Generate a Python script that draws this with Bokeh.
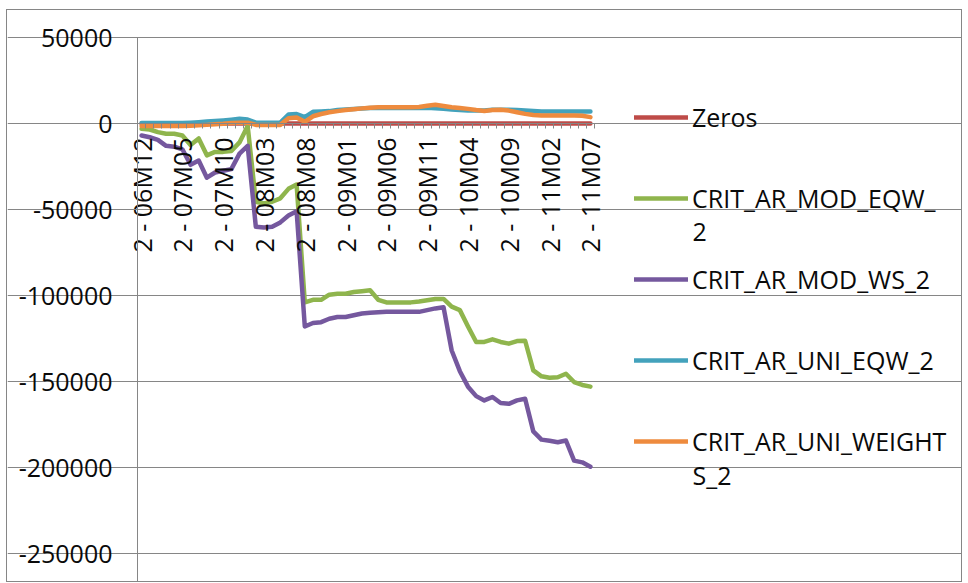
import math

from bokeh.plotting import figure
from bokeh.models import (FixedTicker, NumeralTickFormatter, Legend, LegendItem,
                          Range1d, Label)
from bokeh.embed import file_html
from bokeh.resources import INLINE

# Monthly periods, 2 - 06M12 .. 2 - 11M07
periods = [
    "2 - 06M12", "2 - 07M01", "2 - 07M02", "2 - 07M03", "2 - 07M04", "2 - 07M05",
    "2 - 07M06", "2 - 07M07", "2 - 07M08", "2 - 07M09", "2 - 07M10", "2 - 07M11",
    "2 - 07M12", "2 - 08M01", "2 - 08M02", "2 - 08M03", "2 - 08M04", "2 - 08M05",
    "2 - 08M06", "2 - 08M07", "2 - 08M08", "2 - 08M09", "2 - 08M10", "2 - 08M11",
    "2 - 08M12", "2 - 09M01", "2 - 09M02", "2 - 09M03", "2 - 09M04", "2 - 09M05",
    "2 - 09M06", "2 - 09M07", "2 - 09M08", "2 - 09M09", "2 - 09M10", "2 - 09M11",
    "2 - 09M12", "2 - 10M01", "2 - 10M02", "2 - 10M03", "2 - 10M04", "2 - 10M05",
    "2 - 10M06", "2 - 10M07", "2 - 10M08", "2 - 10M09", "2 - 10M10", "2 - 10M11",
    "2 - 10M12", "2 - 11M01", "2 - 11M02", "2 - 11M03", "2 - 11M04", "2 - 11M05",
    "2 - 11M06", "2 - 11M07",
]

zeros = [
    0, 0, 0, 0, 0, 0, 0, 0, 0, 0, 0, 0, 0, 0, 0, 0, 0, 0, 0, 0, 0, 0, 0, 0, 0, 0, 0, 0,
    0, 0, 0, 0, 0, 0, 0, 0, 0, 0, 0, 0, 0, 0, 0, 0, 0, 0, 0, 0, 0, 0, 0, 0, 0, 0, 0, 0,
]

crit_ar_mod_eqw_2 = [
    -3100, -3500, -5000, -6000, -6000, -7000, -12500, -8700, -18500, -16500,
    -16500, -16000, -11000, -1500, -45500, -46500, -45500, -43500, -38000, -35500,
    -104000, -102500, -102500, -99500, -99000, -99000, -98000, -97500, -97000, -102500,
    -104000, -104000, -104000, -104000, -103500, -102800, -102000, -102000, -106500, -108500,
    -118000, -127000, -127000, -125500, -127000, -128000, -126500, -126300, -143500, -147000,
    -147800, -147500, -145500, -150300, -152000, -153000,
]

crit_ar_mod_ws_2 = [
    -7000, -8000, -9500, -13000, -13500, -15000, -24000, -21500, -31500, -28500,
    -27500, -26500, -17500, -13000, -60000, -60500, -60000, -57500, -53500, -51000,
    -118000, -116000, -115500, -113500, -112500, -112500, -111500, -110500, -110000, -109700,
    -109500, -109500, -109500, -109500, -109500, -108500, -107500, -106800, -132000, -144000,
    -153000, -158500, -161000, -159000, -162500, -163000, -161000, -160000, -179000, -183800,
    -184500, -185300, -184300, -196000, -197000, -199500,
]

crit_ar_uni_eqw_2 = [
    300, 300, 300, 300, 300, 300, 500, 800, 1200, 1500,
    1800, 2200, 2700, 2300, 500, 500, 500, 500, 5200, 5500,
    3700, 6800, 7000, 7200, 7800, 8200, 8500, 8700, 9000, 9000,
    9000, 9000, 9000, 9000, 9000, 9200, 8800, 8600, 8200, 7800,
    7500, 7500, 7500, 8000, 8000, 8000, 7800, 7500, 7200, 7000,
    7000, 7000, 7000, 7000, 7000, 7000,
]

crit_ar_uni_weights_2 = [
    -1500, -1500, -1500, -1500, -1500, -1500, -1300, -1000, -800, -500,
    -200, 300, 500, 500, -800, -800, -800, -800, 3000, 3500,
    1000, 4200, 5500, 6500, 7200, 7800, 8300, 8800, 9200, 9500,
    9500, 9500, 9500, 9500, 9600, 10300, 10900, 10200, 9500, 9000,
    8500, 7800, 7300, 7800, 8000, 7500, 6500, 5600, 5000, 4700,
    4600, 4600, 4600, 4600, 4500, 3700,
]

# legend names, wrapped the way the legend box wraps them
legend_first_lines = ["Zeros", "CRIT_AR_MOD_EQW_", "CRIT_AR_MOD_WS_2",
                      "CRIT_AR_UNI_EQW_2", "CRIT_AR_UNI_WEIGHT"]
legend_second_lines = ["", "2", "", "", "S_2"]
series_values = [zeros, crit_ar_mod_eqw_2, crit_ar_mod_ws_2,
                 crit_ar_uni_eqw_2, crit_ar_uni_weights_2]
series_colors = ["#BE4B48", "#8FB54D", "#75589E", "#43A2BC", "#EE8B3E"]

y_ticks = [-250000, -200000, -150000, -100000, -50000, 0, 50000]
y_min, y_max = -267400, 50000

FONT = "Open Sans"
GRID = "#868686"
TEXT = "#0A0A0A"
FS = "25px"

xs = list(range(len(periods)))
n = len(periods)

# the frame fills the whole canvas; axes are pinned inside it so their
# labels and the legend stay visible
W, H = 956, 573
px_per_cat = 457 / n
px_per_val = 86 / 50000
x0 = -0.5 - 130 / px_per_cat
x1 = x0 + W / px_per_cat
y1 = y_max + 27 / px_per_val
y0 = y1 - H / px_per_val

p = figure(
    width=W, height=H,
    output_backend="svg", toolbar_location=None,
    x_range=Range1d(x0, x1), y_range=Range1d(y0, y1),
    min_border_left=0, min_border_right=0,
    min_border_top=0, min_border_bottom=0,
)
p.margin = (9, 0, 0, 6)
p.styles = {"border": "1px solid #868686"}
p.outline_line_color = None
p.background_fill_color = "white"
p.border_fill_color = "white"

# category axis sits on the zero line, ticks between categories, label every 5th
xa = p.xaxis[0]
xa.fixed_location = 0
xa.bounds = (-0.5, n - 0.5)
xa.ticker = FixedTicker(ticks=xs[::5], minor_ticks=[i - 0.5 for i in range(n + 1)])
xa.major_label_overrides = {i: periods[i] for i in xs[::5]}
xa.major_label_orientation = math.pi / 2
xa.major_tick_line_color = None
xa.major_tick_out = 0
xa.major_tick_in = 0
xa.minor_tick_in = 0
xa.minor_tick_out = 5
xa.minor_tick_line_color = GRID
xa.axis_line_color = GRID
xa.major_label_standoff = 9
xa.major_label_text_font = FONT
xa.major_label_text_font_size = FS
xa.major_label_text_color = TEXT

ya = p.yaxis[0]
ya.fixed_location = -0.5
ya.bounds = (y_min - 20000, y_max)
ya.ticker = FixedTicker(ticks=y_ticks)
ya.formatter = NumeralTickFormatter(format="0")
ya.major_tick_out = 5
ya.major_tick_in = 0
ya.minor_tick_line_color = None
ya.major_tick_line_color = GRID
ya.axis_line_color = GRID
ya.major_label_standoff = 20
ya.major_label_text_font = FONT
ya.major_label_text_font_size = FS
ya.major_label_text_color = TEXT

p.xgrid.visible = False
p.ygrid.ticker = FixedTicker(ticks=y_ticks)
p.ygrid.bounds = (-0.5, n - 0.5)
p.ygrid.grid_line_color = GRID
p.ygrid.grid_line_width = 1

items = []
for name, vals, col in zip(legend_first_lines, series_values, series_colors):
    r = p.line(xs, vals, line_width=4.5, line_color=col, line_join="round", line_cap="round")
    items.append(LegendItem(label=name, renderers=[r]))

ITEM_H = 36
PITCH = 81
FIRST = 117
legend = Legend(
    items=items,
    location=(627, 583 - (FIRST - ITEM_H // 2 + 4 * PITCH + ITEM_H)),
    glyph_width=54, glyph_height=ITEM_H, label_height=ITEM_H,
    label_standoff=4, spacing=PITCH - ITEM_H,
    padding=0, margin=0,
    border_line_color=None, background_fill_alpha=0,
    label_text_font=FONT, label_text_font_size=FS,
    label_text_color=TEXT,
)
p.add_layout(legend)

# continuation lines of the wrapped legend names
for k, extra in enumerate(legend_second_lines):
    if not extra:
        continue
    centre_y = FIRST + k * PITCH + 33          # window pixels from the top
    p.add_layout(Label(
        x=685, y=583 - centre_y, x_units="screen", y_units="screen",
        text=extra, text_baseline="middle", text_align="left",
        text_font=FONT, text_font_size=FS, text_color=TEXT,
    ))

open("out.html", "w").write(file_html(p, INLINE))
